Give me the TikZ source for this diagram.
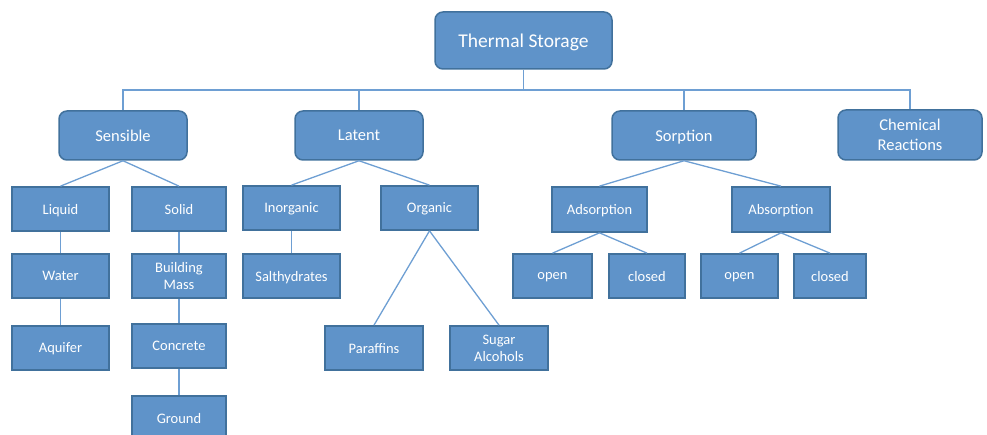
\documentclass[tikz,border=0pt]{standalone}
\usepackage{fontspec}
\setmainfont{Carlito}
\definecolor{boxfill}{HTML}{5F93C9}
\definecolor{boxline}{HTML}{41719C}
\definecolor{conn}{HTML}{6E9FD3}
\begin{document}
\begin{tikzpicture}[x=1pt,y=-1pt,
  top/.style={draw=boxline, line width=1.5pt, fill=boxfill, rounded corners=8pt, text=white, align=center, inner sep=2pt, text depth=0pt},
  midfont/.style={font=\fontsize{16.5}{20}\selectfont},
  leaf/.style={draw=boxline, line width=1.7pt, fill=boxfill, text=white, align=center, inner sep=2pt, text depth=0pt, font=\fontsize{14.5}{17}\selectfont},
  conline/.style={draw=conn, line width=1.3pt}]
\useasboundingbox (0,0) rectangle (987,435);
\clip (0,0) rectangle (987,435);
% top levels
\node[top, minimum width=177pt, minimum height=57pt, font=\fontsize{19.5}{22}\selectfont] (ts) at (523.5,40.5) {Thermal Storage};
\node[top, midfont, minimum width=128pt, minimum height=49pt] (sens) at (123,135.5) {Sensible};
\node[top, midfont, minimum width=128pt, minimum height=49pt] (lat) at (359,135.5) {Latent};
\node[top, midfont, minimum width=144pt, minimum height=49pt] (sorp) at (684,135.5) {Sorption};
\node[top, midfont, minimum width=144pt, minimum height=50pt] (chem) at (910,135) {Chemical\\Reactions};
% sensible branch
\node[leaf, minimum width=97pt, minimum height=44pt] (liquid) at (60.5,209) {Liquid};
\node[leaf, minimum width=94pt, minimum height=44pt] (solid) at (179,209) {Solid};
\node[leaf, minimum width=97pt, minimum height=44pt] (water) at (60.5,276) {Water};
\node[leaf, minimum width=97pt, minimum height=44pt] (aquifer) at (60.5,348) {Aquifer};
\node[leaf, minimum width=94pt, minimum height=44pt] (bmass) at (179,276) {Building\\Mass};
\node[leaf, minimum width=94pt, minimum height=44pt] (concrete) at (179,346) {Concrete};
\node[leaf, minimum width=94pt, minimum height=44pt] (ground) at (179,418) {Ground};
% latent branch
\node[leaf, minimum width=97pt, minimum height=44pt] (inorg) at (291.5,208) {Inorganic};
\node[leaf, minimum width=97pt, minimum height=44pt] (salt) at (291.5,276) {Salthydrates};
\node[leaf, minimum width=97pt, minimum height=44pt] (org) at (429.5,208) {Organic};
\node[leaf, minimum width=98pt, minimum height=44pt] (paraf) at (374,348) {Paraffins};
\node[leaf, minimum width=98pt, minimum height=44pt] (sugar) at (499,348) {Sugar\\Alcohols};
% sorption branch
\node[leaf, minimum width=95pt, minimum height=45pt] (adso) at (599.5,209.5) {Adsorption};
\node[leaf, minimum width=98pt, minimum height=45pt] (abso) at (781,209.5) {Absorption};
\node[leaf, minimum width=79pt, minimum height=44pt] (open1) at (552.5,276) {open};
\node[leaf, minimum width=76pt, minimum height=44pt] (closed1) at (647,276) {closed};
\node[leaf, minimum width=77pt, minimum height=44pt] (open2) at (739.5,276) {open};
\node[leaf, minimum width=72pt, minimum height=44pt] (closed2) at (830,276) {closed};
% bus
\coordinate (bus) at (523.5,90);
\path[conline] (ts.south) -- (ts.south |- bus);
\path[conline] (sens.north) -- (sens.north |- bus) -- (chem.north |- bus) -- (chem.north);
\path[conline] (lat.north) -- (lat.north |- bus);
\path[conline] (sorp.north) -- (sorp.north |- bus);
% connectors
\path[conline] (sens.south) -- (liquid.north);
\path[conline] (sens.south) -- (solid.north);
\path[conline] (liquid.south) -- (water.north);
\path[conline] (water.south) -- (aquifer.north);
\path[conline] (solid.south) -- (bmass.north);
\path[conline] (bmass.south) -- (concrete.north);
\path[conline] (concrete.south) -- (ground.north);
\path[conline] (lat.south) -- (inorg.north);
\path[conline] (lat.south) -- (org.north);
\path[conline] (inorg.south) -- (salt.north);
\path[conline] (org.south) -- (paraf.north);
\path[conline] (org.south) -- (sugar.north);
\path[conline] (sorp.south) -- (adso.north);
\path[conline] (sorp.south) -- (abso.north);
\path[conline] (adso.south) -- (open1.north);
\path[conline] (adso.south) -- (closed1.north);
\path[conline] (abso.south) -- (open2.north);
\path[conline] (abso.south) -- (closed2.north);
\end{tikzpicture}
\end{document}
